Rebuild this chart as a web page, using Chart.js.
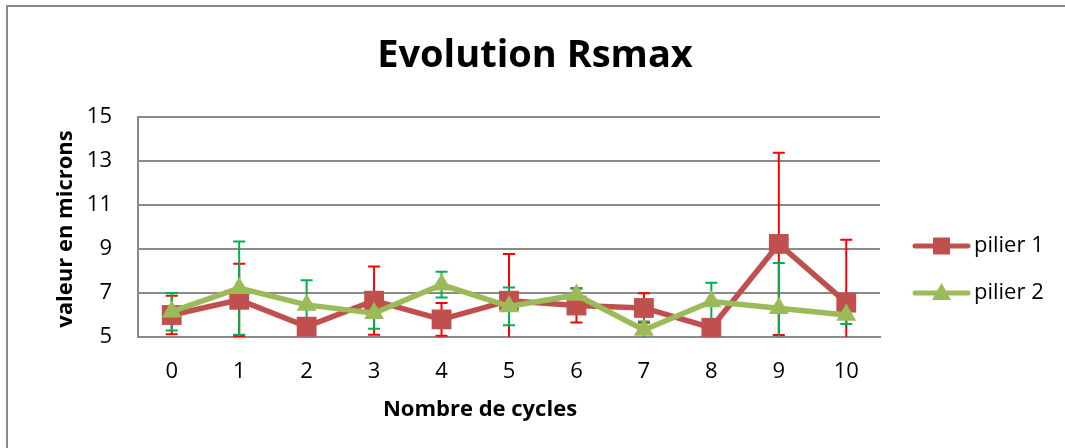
<!DOCTYPE html>
<html>
<head>
<meta charset="utf-8">
<script src="https://cdn.jsdelivr.net/npm/chart.js@4/dist/chart.umd.min.js"></script>
<style>
  html, body { margin: 0; padding: 0; background: #ffffff; }
  #wrap { position: relative; width: 1065px; height: 448px; }
</style>
</head>
<body>
<div id="wrap"><canvas id="chart"></canvas></div>
<script>
// Cycle numbers along the x axis
const cycles = ['0', '1', '2', '3', '4', '5', '6', '7', '8', '9', '10'];

// Rsmax means (microns) and their error bar half-widths
const pilier1 = [6.00, 6.69, 5.47, 6.65, 5.80, 6.65, 6.43, 6.32, 5.42, 9.23, 6.56];
const pilier1Err = [0.88, 1.64, 0.30, 1.55, 0.74, 2.12, 0.77, 0.67, 0.30, 4.14, 2.86];
const pilier2 = [6.15, 7.22, 6.46, 6.08, 7.38, 6.39, 6.91, 5.32, 6.61, 6.31, 6.00];
const pilier2Err = [0.85, 2.12, 1.12, 0.70, 0.59, 0.86, 0.31, 0.38, 0.86, 2.05, 0.41];

// Value axis range
const yMin = 5;
const yMax = 15;
const yStep = 2;

const FONT = '"Open Sans", "DejaVu Sans", sans-serif';
const GRID = '#8a8a8a';
const RED = '#C0504D';
const GREEN = '#9BBB59';

// Vertical error bars drawn under the series, clipped to the plot area
const errorBars = {
  id: 'errorBars',
  beforeDatasetsDraw(chart) {
    const { ctx, chartArea, scales } = chart;
    const y = scales.y;
    ctx.save();
    ctx.beginPath();
    ctx.rect(chartArea.left, chartArea.top - 1, chartArea.right - chartArea.left, chartArea.bottom - chartArea.top + 2);
    ctx.clip();
    chart.data.datasets.forEach((ds, i) => {
      const meta = chart.getDatasetMeta(i);
      ctx.strokeStyle = ds.errorColor;
      ctx.lineWidth = 2;
      ds.data.forEach((v, j) => {
        const e = ds.errors[j];
        const x = meta.data[j].x;
        const hi = v + e, lo = v - e;
        const pHi = y.getPixelForValue(Math.min(hi, yMax));
        const pLo = y.getPixelForValue(Math.max(lo, yMin));
        ctx.beginPath();
        ctx.moveTo(x, pHi);
        ctx.lineTo(x, pLo);
        if (hi <= yMax) { ctx.moveTo(x - 6, pHi); ctx.lineTo(x + 6, pHi); }
        if (lo >= yMin) { ctx.moveTo(x - 6, pLo); ctx.lineTo(x + 6, pLo); }
        ctx.stroke();
      });
    });
    ctx.restore();
  }
};

// Frame, titles and legend
const decorations = {
  id: 'decorations',
  beforeDraw(chart) {
    const { ctx } = chart;
    ctx.save();
    ctx.fillStyle = '#ffffff';
    ctx.fillRect(0, 0, chart.width, chart.height);
    ctx.strokeStyle = GRID;
    ctx.lineWidth = 2;
    ctx.beginPath();
    ctx.moveTo(7, chart.height);
    ctx.lineTo(7, 6);
    ctx.lineTo(chart.width, 6);
    ctx.stroke();
    ctx.restore();
  },
  afterDraw(chart) {
    const { ctx } = chart;
    ctx.save();
    ctx.fillStyle = '#000000';
    ctx.textAlign = 'center';
    ctx.textBaseline = 'alphabetic';
    ctx.font = 'bold 38px ' + FONT;
    ctx.fillText('Evolution Rsmax', 535, 67);

    ctx.font = 'bold 22px ' + FONT;
    ctx.fillText('Nombre de cycles', 480, 416);

    ctx.save();
    ctx.translate(72, 229);
    ctx.rotate(-Math.PI / 2);
    ctx.fillText('valeur en microns', 0, 0);
    ctx.restore();

    // legend
    const entries = [
      { label: 'pilier 1', color: RED, shape: 'square', y: 246 },
      { label: 'pilier 2', color: GREEN, shape: 'triangle', y: 293 }
    ];
    entries.forEach(en => {
      ctx.strokeStyle = en.color;
      ctx.fillStyle = en.color;
      ctx.lineWidth = 5;
      ctx.lineCap = 'round';
      ctx.beginPath();
      ctx.moveTo(915, en.y);
      ctx.lineTo(968, en.y);
      ctx.stroke();
      const cx = 941.5;
      ctx.beginPath();
      if (en.shape === 'square') {
        ctx.rect(cx - 8.5, en.y - 8.5, 17, 17);
      } else {
        ctx.moveTo(cx, en.y - 10);
        ctx.lineTo(cx + 9.5, en.y + 7);
        ctx.lineTo(cx - 9.5, en.y + 7);
        ctx.closePath();
      }
      ctx.fill();
      ctx.fillStyle = '#000000';
      ctx.textAlign = 'left';
      ctx.textBaseline = 'middle';
      ctx.font = '22px ' + FONT;
      ctx.fillText(en.label, 974, en.y);
    });
    ctx.restore();
  }
};

new Chart(document.getElementById('chart'), {
  type: 'line',
  data: {
    labels: cycles,
    datasets: [
      {
        label: 'pilier 1',
        data: pilier1,
        errors: pilier1Err,
        errorColor: '#FF0000',
        borderColor: RED,
        backgroundColor: RED,
        borderWidth: 5.5,
        pointStyle: 'rect',
        pointRadius: 14,
        pointBorderWidth: 0,
        pointBackgroundColor: RED,
        tension: 0,
        order: 2
      },
      {
        label: 'pilier 2',
        data: pilier2,
        errors: pilier2Err,
        errorColor: '#00B050',
        borderColor: GREEN,
        backgroundColor: GREEN,
        borderWidth: 5.5,
        pointStyle: 'triangle',
        pointRadius: 11.5,
        pointBorderWidth: 0,
        pointBackgroundColor: GREEN,
        tension: 0,
        order: 1
      }
    ]
  },
  options: {
    responsive: true,
    maintainAspectRatio: false,
    animation: false,
    devicePixelRatio: 1,
    layout: { padding: { top: 117, right: 185, left: 0, bottom: 0 } },
    plugins: {
      legend: { display: false },
      title: { display: false },
      tooltip: { enabled: false }
    },
    scales: {
      x: {
        offset: true,
        grid: { display: false, drawTicks: false },
        border: { display: true, color: GRID, width: 2 },
        ticks: { color: '#000', font: { family: FONT, size: 22 }, padding: 22, maxRotation: 0 },
        afterFit(scale) { scale.height = 111; }
      },
      y: {
        min: yMin,
        max: yMax,
        grid: { color: GRID, lineWidth: 2, drawTicks: false },
        border: { display: true, color: GRID, width: 2 },
        ticks: { stepSize: yStep, color: '#000', font: { family: FONT, size: 22 }, padding: 26 },
        afterFit(scale) { scale.width = 138; }
      }
    }
  },
  plugins: [errorBars, decorations]
});
</script>
</body>
</html>
